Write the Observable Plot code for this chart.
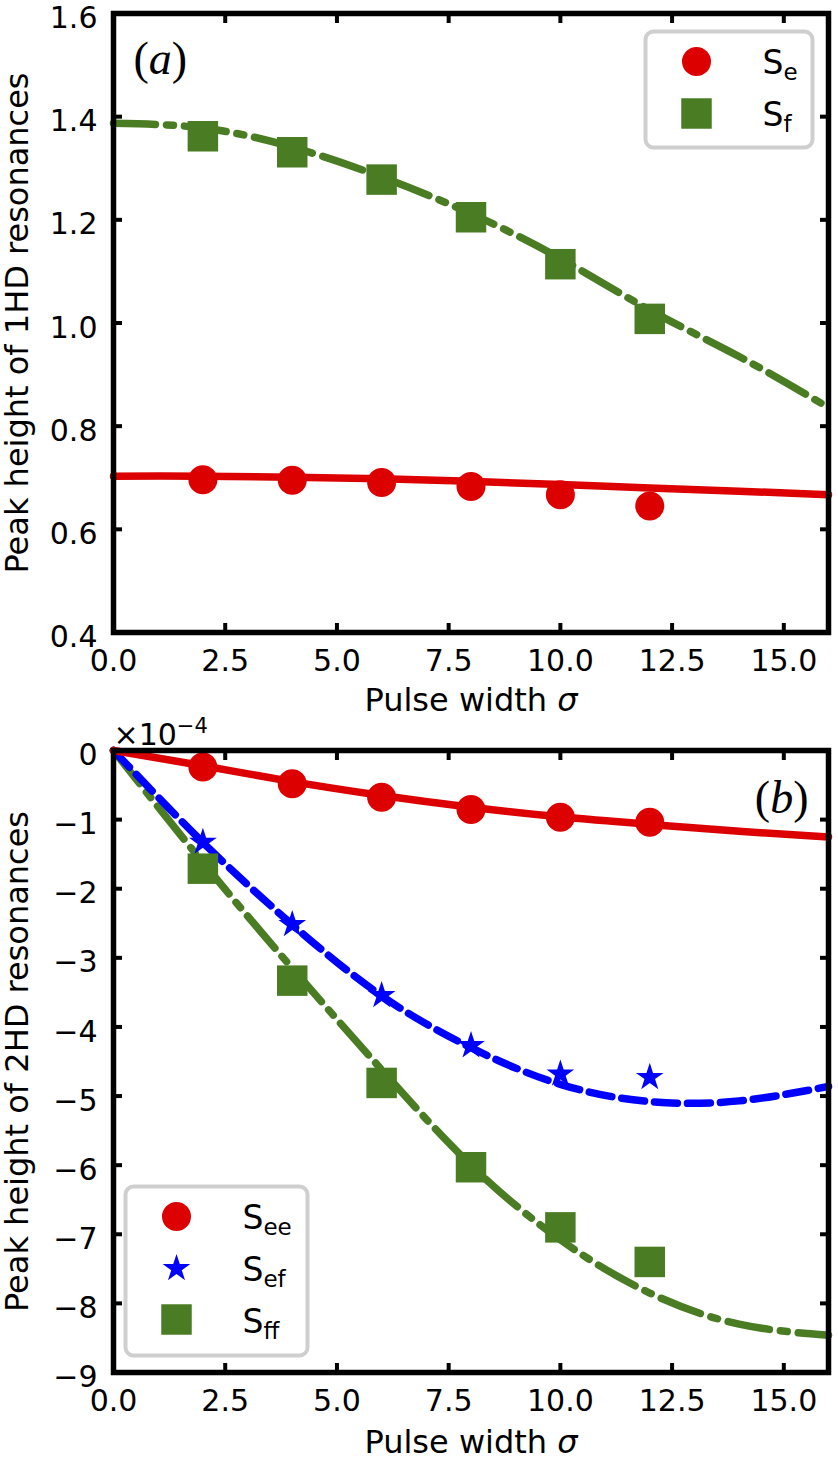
<!DOCTYPE html>
<html><head><meta charset="utf-8">
<script src="https://cdn.jsdelivr.net/npm/d3@7"></script>
<script src="https://cdn.jsdelivr.net/npm/@observablehq/plot@0.6"></script>
<style>
body{margin:0;background:#fff;}
#chart{width:838px;}
#chart svg{display:block;}
</style></head><body><div id="chart"></div>
<script>
// ---------- data ----------
const sigmaData = [2, 4, 6, 8, 10, 12];
const sigmaFit = [0, 2, 4, 6, 8, 10, 12, 14, 16];
const xTicks = [0, 2.5, 5, 7.5, 10, 12.5, 15];
const yTicksA = [0.4, 0.6, 0.8, 1.0, 1.2, 1.4, 1.6];
const yTicksB = [0, -1, -2, -3, -4, -5, -6, -7, -8, -9];

// panel (a): 1HD peak heights
const Se_pts = [0.696, 0.695, 0.691, 0.683, 0.667, 0.645];
const Sf_pts = [1.362, 1.331, 1.278, 1.205, 1.114, 1.008];
const Se_fit = [0.703, 0.703, 0.701, 0.698, 0.693, 0.687, 0.680, 0.674, 0.667];
const Sf_fit = [1.387, 1.378, 1.341, 1.283, 1.212, 1.125, 1.025, 0.935, 0.836];

// panel (b): 2HD peak heights, in units of 1e-4
const See_pts = [-0.24, -0.48, -0.675, -0.854, -0.965, -1.037];
const Sef_pts = [-1.327, -2.518, -3.545, -4.27, -4.68, -4.73];
const Sff_pts = [-1.71, -3.33, -4.81, -6.03, -6.90, -7.40];
const See_fit = [0, -0.22, -0.45, -0.65, -0.82, -0.96, -1.07, -1.17, -1.25];
const Sef_fit = [0, -1.33, -2.52, -3.55, -4.30, -4.83, -5.08, -5.07, -4.86];
const Sff_fit = [0, -1.62, -3.15, -4.62, -6.00, -7.08, -7.85, -8.30, -8.46];

// ---------- styling ----------
const RED = "#dc0000", GREEN = "#4a7d23", BLUE = "#0000ff";
const W = 838, ML = 113, MR = 10;
const rows = (xs, ys) => xs.map((x, i) => ({x, y: ys[i]}));
const fmt1 = d3.format(".1f");
const fmtInt = d3.format("d");

function tickMarks(yt) {
  const o = {tickSize: 9, strokeWidth: 4, fill: "none", label: null};
  return [
    Plot.axisX(xTicks, {anchor: "bottom", dy: -9, ...o}),
    Plot.axisX(xTicks, {anchor: "top", dy: 9, ...o}),
    Plot.axisY(yt, {anchor: "left", dx: 9, ...o}),
    Plot.axisY(yt, {anchor: "right", dx: -9, ...o})
  ];
}
function tickTexts(yt, yfmt) {
  return [
    Plot.axisX(xTicks, {anchor: "bottom", tickSize: 0, tickPadding: 17, fontSize: 30, tickFormat: fmt1, label: null}),
    Plot.axisY(yt, {anchor: "left", tickSize: 0, tickPadding: 16, fontSize: 30, dy: 5, tickFormat: yfmt, label: null})
  ];
}
function yLabel(t) {
  return Plot.text([t], {frameAnchor: "left", dx: 5 - ML, rotate: -90, lineAnchor: "top", textAnchor: "middle", fontSize: 32});
}
function xLabel(dy) {
  return Plot.text(["Pulse width $σ$"], {frameAnchor: "bottom", dy, lineAnchor: "top", textAnchor: "middle", fontSize: 32});
}
const lineStyles = {
  solid: {strokeWidth: 7.5},
  dashed: {strokeWidth: 7.5, strokeDasharray: "23,10"},
  dashdot: {strokeWidth: 7.5, strokeDasharray: "42,11,7,11"}
};
const sym = {
  circle: {symbol: "circle", r: 14.5},
  square: {symbol: "square", r: 17.2},
  star: {symbol: "star", r: 8.7}
};
const legendText = {fontSize: 33, lineAnchor: "bottom", textAnchor: "start"};

// ---------- panel (a) ----------
const plotA = Plot.plot({
  width: W, height: 720,
  marginLeft: ML, marginRight: MR, marginTop: 13, marginBottom: 88,
  style: {fontFamily: "'DejaVu Sans', sans-serif", background: "white", overflow: "visible"},
  x: {domain: [0, 16], label: null},
  y: {domain: [0.4, 1.6], label: null},
  marks: [
    Plot.line(rows(sigmaFit, Sf_fit), {x: "x", y: "y", stroke: GREEN, curve: "natural", ...lineStyles.dashdot}),
    Plot.line(rows(sigmaFit, Se_fit), {x: "x", y: "y", stroke: RED, curve: "natural", ...lineStyles.solid}),
    Plot.dot(rows(sigmaData, Se_pts), {x: "x", y: "y", fill: RED, ...sym.circle}),
    Plot.dot(rows(sigmaData, Sf_pts), {x: "x", y: "y", fill: GREEN, ...sym.square}),
    // legend
    Plot.frame({fill: "white", fillOpacity: 0.85, stroke: "#cfcfcf", strokeWidth: 4, rx: 8,
      insetLeft: 532, insetRight: 16, insetTop: 18, insetBottom: 485}),
    Plot.dot([0], {frameAnchor: "top-right", dx: -132, dy: 48, fill: RED, ...sym.circle}),
    Plot.dot([0], {frameAnchor: "top-right", dx: -132, dy: 100, fill: GREEN, ...sym.square}),
    Plot.text(["S_{e}"], {frameAnchor: "top-right", dx: -66, dy: 60, ...legendText}),
    Plot.text(["S_{f}"], {frameAnchor: "top-right", dx: -66, dy: 112, ...legendText}),
    // panel tag
    Plot.text(["($a$)"], {frameAnchor: "top-left", dx: 20, dy: 60, lineAnchor: "bottom", textAnchor: "start",
      fontSize: 46, fontFamily: "'Liberation Serif', 'DejaVu Serif', serif"}),
    ...tickMarks(yTicksA),
    Plot.frame({stroke: "black", strokeWidth: 5.5}),
    ...tickTexts(yTicksA, fmt1),
    yLabel("Peak height of 1HD resonances"),
    xLabel(56)
  ]
});

// ---------- panel (b) ----------
const plotB = Plot.plot({
  width: W, height: 739,
  marginLeft: ML, marginRight: MR, marginTop: 30, marginBottom: 87,
  style: {fontFamily: "'DejaVu Sans', sans-serif", background: "white", overflow: "visible"},
  x: {domain: [0, 16], label: null},
  y: {domain: [-9, 0], label: null},
  marks: [
    Plot.line(rows(sigmaFit, Sff_fit), {x: "x", y: "y", stroke: GREEN, curve: "natural", ...lineStyles.dashdot}),
    Plot.line(rows(sigmaFit, Sef_fit), {x: "x", y: "y", stroke: BLUE, curve: "natural", ...lineStyles.dashed}),
    Plot.line(rows(sigmaFit, See_fit), {x: "x", y: "y", stroke: RED, curve: "natural", ...lineStyles.solid}),
    Plot.dot(rows(sigmaData, See_pts), {x: "x", y: "y", fill: RED, ...sym.circle}),
    Plot.dot(rows(sigmaData, Sef_pts), {x: "x", y: "y", fill: BLUE, ...sym.star}),
    Plot.dot(rows(sigmaData, Sff_pts), {x: "x", y: "y", fill: GREEN, ...sym.square}),
    // legend
    Plot.frame({fill: "white", fillOpacity: 0.85, stroke: "#cfcfcf", strokeWidth: 4, rx: 8,
      insetLeft: 12, insetRight: 521, insetTop: 436, insetBottom: 17}),
    Plot.dot([0], {frameAnchor: "bottom-left", dx: 63, dy: -156, fill: RED, ...sym.circle}),
    Plot.dot([0], {frameAnchor: "bottom-left", dx: 63, dy: -104, fill: BLUE, ...sym.star}),
    Plot.dot([0], {frameAnchor: "bottom-left", dx: 63, dy: -53, fill: GREEN, ...sym.square}),
    Plot.text(["S_{ee}"], {frameAnchor: "bottom-left", dx: 129, dy: -144, ...legendText}),
    Plot.text(["S_{ef}"], {frameAnchor: "bottom-left", dx: 129, dy: -92, ...legendText}),
    Plot.text(["S_{ff}"], {frameAnchor: "bottom-left", dx: 129, dy: -40, ...legendText}),
    // panel tag
    Plot.text(["($b$)"], {frameAnchor: "top-right", dx: -20, dy: 62, lineAnchor: "bottom", textAnchor: "end",
      fontSize: 46, fontFamily: "'Liberation Serif', 'DejaVu Serif', serif"}),
    // offset text
    Plot.text(["×10^{−4}"], {frameAnchor: "top-left", dx: 0, dy: -6, lineAnchor: "bottom", textAnchor: "start", fontSize: 30}),
    ...tickMarks(yTicksB),
    Plot.frame({stroke: "black", strokeWidth: 5.5}),
    ...tickTexts(yTicksB, fmtInt),
    yLabel("Peak height of 2HD resonances"),
    xLabel(58)
  ]
});

// rich text: S_{e} subscripts, ^{...} superscripts, $...$ italics
function decorate(svg) {
  d3.select(svg).selectAll("text").each(function () {
    const t = this.textContent;
    const el = d3.select(this);
    let m;
    if ((m = t.match(/^(.*)_\{(.*)\}$/))) {
      el.text(m[1]);
      el.append("tspan").attr("font-size", 23).attr("dy", 6).text(m[2]);
    } else if ((m = t.match(/^(.*)\^\{(.*)\}$/))) {
      el.text(m[1]);
      el.append("tspan").attr("font-size", 21).attr("dy", -12).text(m[2]);
    } else if ((m = t.match(/^(.*)\$(.*)\$(.*)$/))) {
      el.text(m[1]);
      el.append("tspan").attr("font-style", "italic").text(m[2]);
      if (m[3]) el.append("tspan").attr("font-style", "normal").text(m[3]);
    }
  });
  return svg;
}

const chart = document.getElementById("chart");
chart.append(decorate(plotA));
chart.append(decorate(plotB));
</script>
</body></html>
